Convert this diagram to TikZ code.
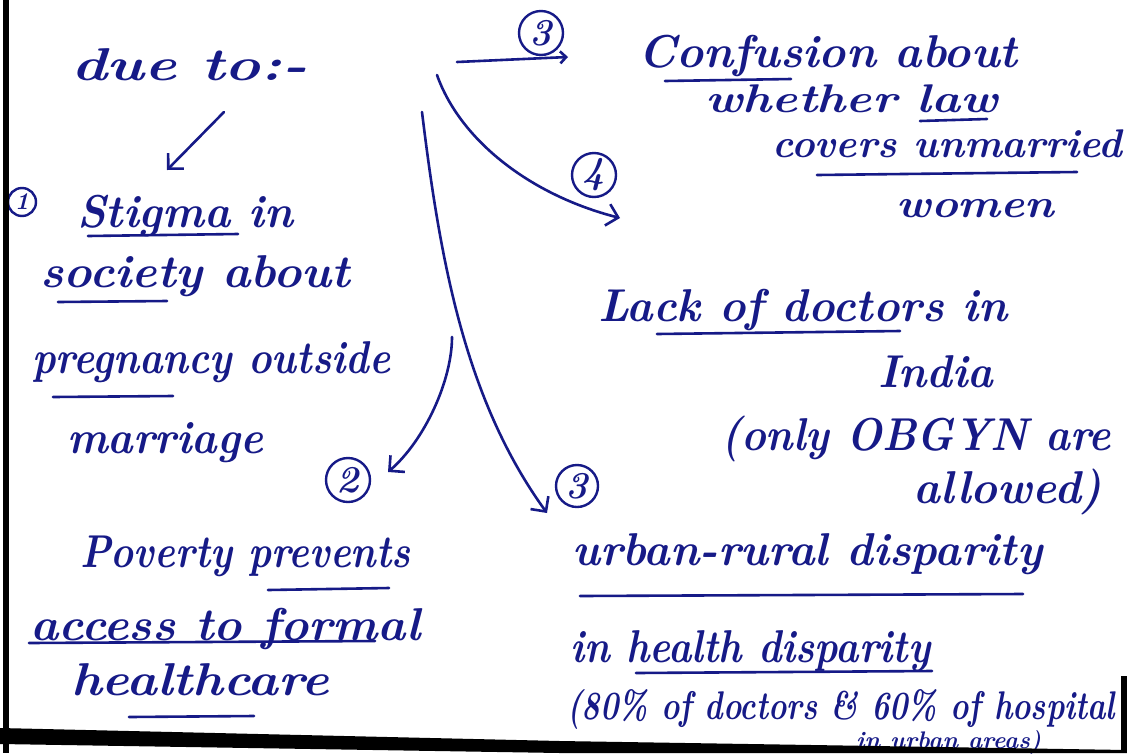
\documentclass[tikz,border=0pt]{standalone}
\usepackage{graphicx}
\usetikzlibrary{arrows.meta}
\definecolor{ink}{RGB}{22,26,135}
\newcommand{\hw}[2]{\resizebox{#1pt}{\height}{#2}}
\begin{document}
\begin{tikzpicture}[x=1pt,y=-1pt,
  hand/.style={text=ink, inner sep=0pt, anchor=base west, font=\fontsize{46}{50}\selectfont\bfseries\itshape},
  small/.style={hand, font=\fontsize{40}{44}\selectfont\bfseries\itshape},
  tiny/.style={hand, font=\fontsize{24}{26}\selectfont\bfseries\itshape},
  num/.style={circle, draw=ink, line width=2.4pt, text=ink, inner sep=0pt, minimum size=#1, font=\fontsize{38}{38}\selectfont\bfseries\itshape},
  uline/.style={draw=ink, line width=2.6pt, line cap=round},
  arr/.style={draw=ink, line width=2.6pt, line cap=round, -{Straight Barb[length=11pt,width=22pt,line width=2.6pt]}},
  sarr/.style={draw=ink, line width=2.6pt, line cap=round, -{Straight Barb[length=6pt,width=12pt,line width=2.6pt]}},
]
\useasboundingbox (0,0) rectangle (1127,753);
\clip (0,0) rectangle (1127,753);
\fill[white] (0,0) rectangle (1127,753);

% texts
\node[hand] (due) at (71,80) {\hw{236}{due to:-}};
\node[num=44pt] (n3a) at (541,33) {3};
\node[hand] (conf) at (638,67) {\hw{379}{Confusion about}};
\node[small] (whether) at (705,112) {\hw{293}{whether law}};
\node[small] (covers) at (772,157) {\hw{350}{covers unmarried}};
\node[small] (women) at (896,217) {\hw{158}{women}};
\node[num=44pt] (n4) at (594,175) {4};
\node[num=28pt, font=\fontsize{24}{24}\selectfont\bfseries\itshape] (n1) at (22,202) {1};
\node[hand] (stigma) at (77,227) {\hw{216}{Stigma in}};
\node[hand] (society) at (40,287) {\hw{310}{society about}};
\node[hand] (pregnancy) at (32,373) {\hw{358}{pregnancy outside}};
\node[hand] (marriage) at (67,453) {\hw{196}{marriage}};
\node[num=44pt] (n2) at (348,480) {2};
\node[num=42pt] (n3b) at (577,486) {3};
\node[hand] (poverty) at (80,567) {\hw{330}{Poverty prevents}};
\node[hand] (access) at (30,640) {\hw{390}{access to formal}};
\node[hand] (healthcare) at (71,695) {\hw{258}{healthcare}};
\node[hand] (lack) at (598,321) {\hw{409}{Lack of doctors in}};
\node[hand] (india) at (878,387) {\hw{115}{India}};
\node[hand] (only) at (721,450) {\hw{390}{(only OBGYN are}};
\node[hand] (allowed) at (913,503) {\hw{189}{allowed)}};
\node[hand] (urban) at (572,565) {\hw{470}{urban-rural disparity}};
\node[hand] (inhealth) at (570,662) {\hw{360}{in health disparity}};
\node[small] (pct) at (567,719) {\hw{548}{(80\% of doctors \& 60\% of hospital}};
\node[tiny] (areas) at (856,748) {\hw{185}{in urban areas)}};

% underlines
\draw[uline] (665,81) -- (791,79);
\draw[uline] (920,121) -- (987,119);
\draw[uline] (817,175) -- (1077,172);
\draw[uline] (88,236) -- (238,234);
\draw[uline] (58,302) -- (167,301);
\draw[uline] (53,397) -- (173,396);
\draw[uline] (268,590) -- (389,588);
\draw[uline] (29,643) -- (375,641);
\draw[uline] (129,717) -- (254,716);
\draw[uline] (657,334) -- (900,331);
\draw[uline] (580,596) -- (1023,594);
\draw[uline] (636,673) -- (932,671);

% arrows
\coordinate (s1) at (224,112); \coordinate (e1) at (167,170);
\coordinate (s3) at (457,62);  \coordinate (e3) at (568,57);
\coordinate (s4) at (437,75);  \coordinate (e4) at (620,218);
\coordinate (s2) at (452,337); \coordinate (e2) at (388,472);
\coordinate (s5) at (422,112); \coordinate (e5) at (547,513);
\draw[arr] (s1) -- (e1);
\draw[sarr] (s3) -- (e3);
\draw[arr] (s4) .. controls (460,140) and (530,195) .. (e4);
\draw[arr] (s2) .. controls (452,380) and (425,440) .. (e2);
\draw[arr] (s5) .. controls (440,260) and (465,400) .. (e5);

% page borders
\fill[black] (3,0) rectangle (9,753);
\fill[black] (0,728) -- (560,741) -- (1127,750) -- (1127,753) -- (560,753) -- (0,744) -- cycle;
\fill[black] (1121,676) rectangle (1127,753);
\end{tikzpicture}
\end{document}
